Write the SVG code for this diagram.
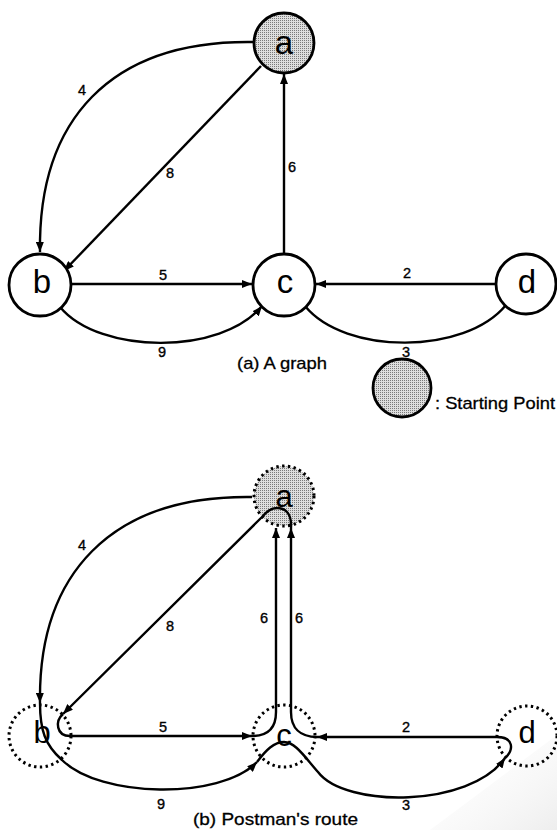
<svg xmlns="http://www.w3.org/2000/svg" width="557" height="830" viewBox="0 0 557 830">
  <defs>
    <pattern id="stipple" width="2" height="2" patternUnits="userSpaceOnUse">
      <rect width="2" height="2" fill="#dedede"/>
      <rect width="1" height="1" fill="#7a7a7a"/>
    </pattern>
    <marker id="arrow" viewBox="0 0 10 8" refX="10" refY="4" markerWidth="10" markerHeight="8" markerUnits="userSpaceOnUse" orient="auto">
      <path d="M0,0 L10,4 L0,8 z" fill="#000"/>
    </marker>
    <linearGradient id="curl" x1="0" y1="0" x2="1" y2="1">
      <stop offset="0" stop-color="#ffffff" stop-opacity="0"/>
      <stop offset="1" stop-color="#dcdcdc" stop-opacity="0.5"/>
    </linearGradient>
    <style>
      .node { fill: #fff; stroke: #000; stroke-width: 2.8; }
      .start { fill: url(#stipple); }
      .dotted { fill: none; stroke: #000; stroke-width: 3; stroke-dasharray: 2.4 3.4; }
      .edge { fill: none; stroke: #000; stroke-width: 2.4; }
      .arr { marker-end: url(#arrow); }
      .name { font-family: "Liberation Sans", Arial, sans-serif; font-size: 33px; text-anchor: middle; fill: #000; }
      .name2 { font-family: "Liberation Sans", Arial, sans-serif; font-size: 31px; text-anchor: middle; fill: #000; }
      .w { font-family: "Liberation Sans", Arial, sans-serif; font-size: 14.5px; text-anchor: middle; fill: #000; stroke: #000; stroke-width: 0.35; }
      .cap { font-family: "Liberation Sans", Arial, sans-serif; font-size: 17px; fill: #000; stroke: #000; stroke-width: 0.3; }
    </style>
  </defs>
  <rect width="557" height="830" fill="#fff"/>
  <polygon points="430,830 557,735 557,830" fill="url(#curl)"/>

  <!-- (a) graph: connectors -->
  <g id="edges-a">
    <path class="edge arr" d="M253 42 C110 40, 38 120, 40 252"/>
    <path class="edge arr" d="M261 66 L64 271"/>
    <path class="edge arr" d="M284 254 L284 74"/>
    <path class="edge arr" d="M71 284 L252 284"/>
    <path class="edge arr" d="M60 307 C100 355, 222 355, 262 306"/>
    <path class="edge arr" d="M496 284 L316 284"/>
    <path class="edge" d="M305 306 C345 355, 465 355, 506 305"/>
    <text class="w" x="82" y="95">4</text>
    <text class="w" x="170" y="178">8</text>
    <text class="w" x="292" y="172">6</text>
    <text class="w" x="163" y="280">5</text>
    <text class="w" x="162" y="357">9</text>
    <text class="w" x="407" y="278">2</text>
    <text class="w" x="406" y="357">3</text>
  </g>

  <!-- (a) graph: nodes -->
  <g id="a-top">
    <circle class="node start" cx="284" cy="43" r="30"/>
    <text class="name" x="284" y="54">a</text>
  </g>
  <g id="b-top">
    <circle class="node" cx="40" cy="285" r="31"/>
    <text class="name" x="42" y="293">b</text>
  </g>
  <g id="c-top">
    <circle class="node" cx="284" cy="285" r="31"/>
    <text class="name" x="285" y="293">c</text>
  </g>
  <g id="d-top">
    <circle class="node" cx="526" cy="284" r="30"/>
    <text class="name" x="527" y="293">d</text>
  </g>
  <text class="cap" x="237" y="369" textLength="90" lengthAdjust="spacingAndGlyphs">(a) A graph</text>

  <!-- legend -->
  <g id="legend">
    <circle class="node start" cx="402" cy="388" r="29"/>
    <text class="cap" x="435" y="409" textLength="120" lengthAdjust="spacingAndGlyphs">: Starting Point</text>
  </g>

  <!-- (b) postman's route: nodes -->
  <g id="a-route">
    <circle class="dotted" cx="284" cy="496" r="30" style="fill:url(#stipple)"/>
    <text class="name2" x="284" y="507">a</text>
  </g>
  <g id="b-route">
    <circle class="dotted" cx="40" cy="736" r="31"/>
    <text class="name2" x="42" y="743">b</text>
  </g>
  <g id="c-route">
    <circle class="dotted" cx="284" cy="736" r="31"/>
    <text class="name2" x="284" y="746">c</text>
  </g>
  <g id="d-route">
    <circle class="dotted" cx="527" cy="736" r="30"/>
    <text class="name2" x="527" y="743">d</text>
  </g>

  <!-- (b) postman's route: connectors, in tour order -->
  <g id="edges-b">
    <path class="edge arr" d="M252 497 C110 495, 38 575, 40 703"/>
    <path class="edge arr" d="M40 703 C40 730, 45 745, 62 760 C100 798, 220 800, 257 762"/>
    <path class="edge arr" d="M257 762 C266 750, 274 742, 284 742 C295 742, 304 756, 318 772 C345 808, 470 808, 505 758"/>
    <path class="edge arr" d="M505 758 C514 750, 514 737, 497 737 L317 737"/>
    <path class="edge arr" d="M317 737 C300 737, 291 728, 291 712 L291 528"/>
    <path class="edge arr" d="M291 528 C292 512, 284 508, 277 508 C270 508, 266 512, 262 517 L63 714"/>
    <path class="edge arr" d="M63 714 C55 721, 56 736, 70 736 L252 736"/>
    <path class="edge arr" d="M252 736 C268 736, 276 728, 276 712 L276 528"/>
    <text class="w" x="82" y="550">4</text>
    <text class="w" x="170" y="631">8</text>
    <text class="w" x="264" y="623">6</text>
    <text class="w" x="299" y="623">6</text>
    <text class="w" x="163" y="732">5</text>
    <text class="w" x="406" y="732">2</text>
    <text class="w" x="161" y="809">9</text>
    <text class="w" x="406" y="810">3</text>
  </g>
  <text class="cap" x="193" y="825" textLength="165" lengthAdjust="spacingAndGlyphs">(b) Postman's route</text>
</svg>
